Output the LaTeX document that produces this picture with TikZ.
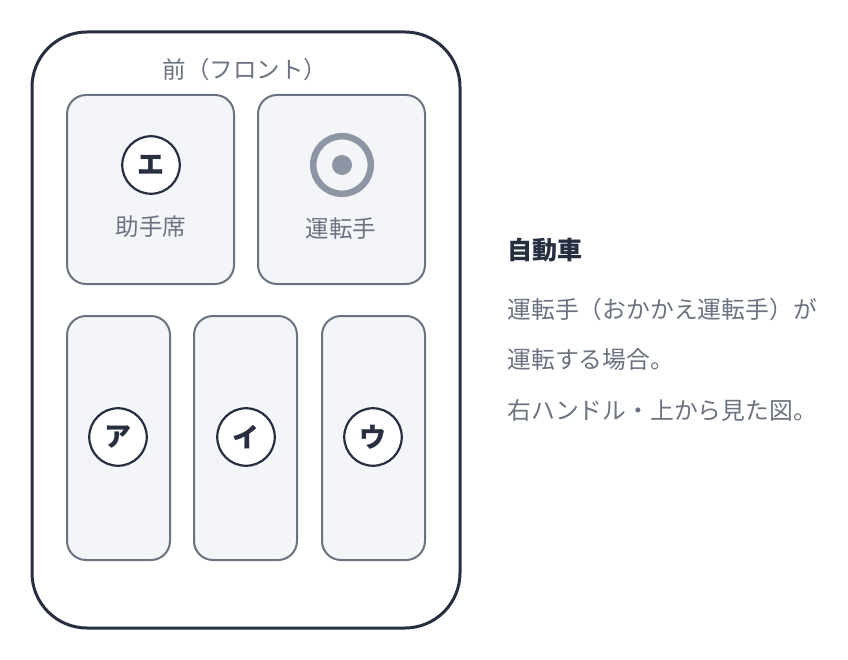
\documentclass[tikz,border=0pt]{standalone}
\usepackage{fontspec}
\newfontfamily\jp{Noto Sans CJK JP}
\definecolor{navy}{HTML}{262E40}
\definecolor{seatline}{HTML}{6B7280}
\definecolor{seatfill}{HTML}{F4F5F9}
\definecolor{txtgray}{HTML}{6B7280}
\definecolor{ringgray}{HTML}{8E96A5}
\tikzset{
  car/.style={draw=navy, line width=3pt, rounded corners=55pt},
  seat/.style={draw=seatline, fill=seatfill, line width=2pt, rounded corners=19pt},
  seatmark/.style={circle, draw=navy, line width=2.2pt, fill=white, minimum size=57.5pt, inner sep=0pt,
    font=\jp\bfseries\fontsize{27}{30}\selectfont, text=navy},
  lbl/.style={font=\jp\fontsize{23.5}{27}\selectfont, text=txtgray},
  note/.style={anchor=west, font=\jp\fontsize{23.8}{27}\selectfont, text=txtgray}
}
\begin{document}
\begin{tikzpicture}[x=1pt, y=-1pt]
	\useasboundingbox (0,0) rectangle (848,660);
	% car body
	\draw [car] (32,32) rectangle (460,628);
	\node [lbl] (front) at (245,70) {前（フロント）};
	% front seats
	\draw [seat] (67,95) rectangle (234,284);
	\draw [seat] (258,95) rectangle (425,284);
	\node [seatmark] (e) at (151,165) {エ};
	\node [lbl] (assist) at (151,227) {助手席};
	\draw [ringgray, line width=6.5pt] (342,165) circle (28.8pt);
	\fill [ringgray] (342,165) circle (10pt);
	\node [lbl] (driver) at (341,229) {運転手};
	% rear seats
	\draw [seat] (67,316) rectangle (170,560);
	\draw [seat] (194,316) rectangle (297,560);
	\draw [seat] (322,316) rectangle (425,560);
	\node [seatmark] (a) at (118,437) {ア};
	\node [seatmark] (i) at (246,437) {イ};
	\node [seatmark] (u) at (373,437) {ウ};
	% caption
	\node [note, font=\jp\bfseries\fontsize{25}{28}\selectfont, text=navy] (title) at (504,250) {自動車};
	\node [note] (line1) at (504,309) {運転手（おかかえ運転手）が};
	\node [note] (line2) at (504,360) {運転する場合。};
	\node [note] (line3) at (504,410) {右ハンドル・上から見た図。};
\end{tikzpicture}
\end{document}
